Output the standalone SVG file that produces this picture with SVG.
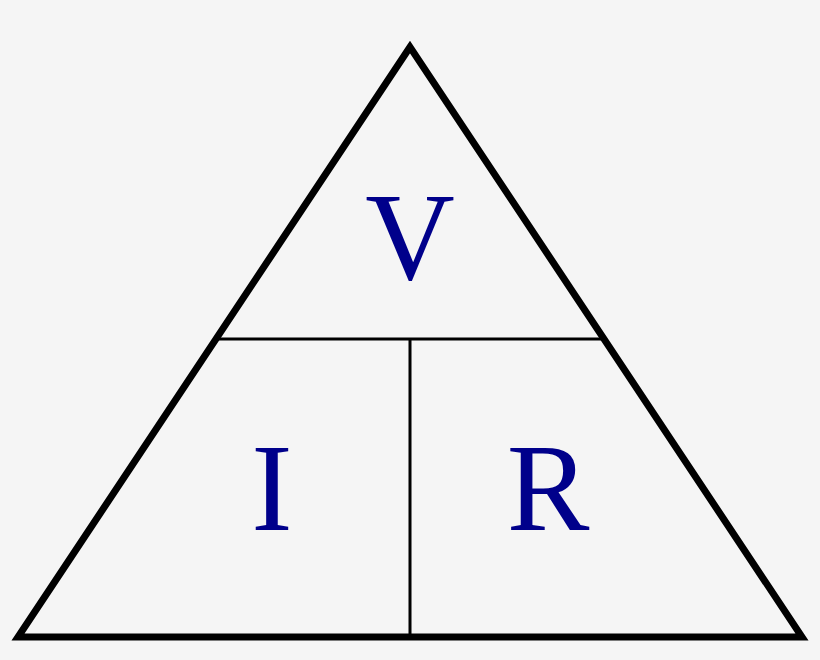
<svg xmlns="http://www.w3.org/2000/svg" width="820" height="660" viewBox="0 0 820 660">
<style>
.t{font-family:'Liberation Serif','Times New Roman',Times,Tinos,serif;font-size:124px;fill:#00008b;text-anchor:middle}
.l{stroke:#000;stroke-width:3;fill:none}
</style>
<rect width="820" height="660" fill="#f5f5f5"/>
<g id="triangle"><polygon points="410,47 18,637 802,637" fill="none" stroke="#000" stroke-width="7" stroke-linejoin="miter"/></g>
<g id="connectors">
<line class="l" x1="218" y1="339" x2="602" y2="339"/>
<line class="l" x1="410" y1="339" x2="410" y2="637"/>
</g>
<g id="V"><text class="t" x="410" y="279">V</text></g>
<g id="I"><text class="t" x="272" y="530">I</text></g>
<g id="R"><text class="t" x="548" y="530">R</text></g>
</svg>
